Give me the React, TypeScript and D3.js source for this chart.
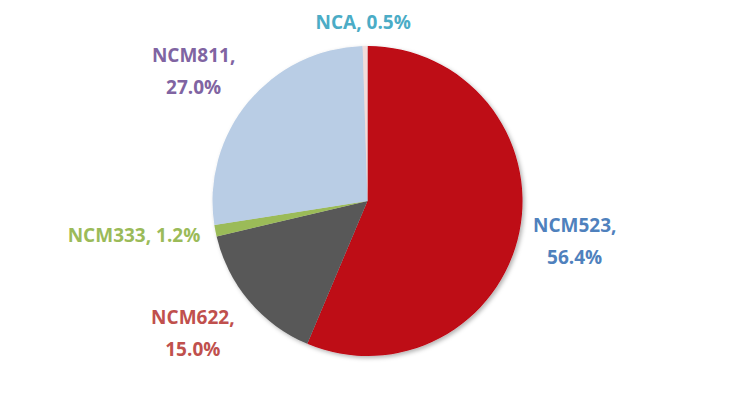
import { useMemo } from "react";
import * as d3 from "d3";

const WIDTH = 736;
const HEIGHT = 402;
const CX = 367.5;
const CY = 201;
const RADIUS = 155;
const FONT_SIZE = 19;
const LINE_GAP = 32;

const categories = ["NCM523", "NCM622", "NCM333", "NCM811", "NCA"];
const shares = [56.4, 15.0, 1.2, 27.0, 0.5];

const sliceColors = ["#BE0712", "#595959", "#9BBB59", "#B9CDE5", "#F2DCDB"];
const labelColors = ["#4F81BD", "#C0504D", "#9BBB59", "#8064A2", "#4BACC6"];

// label placement: radius from centre, angle shift (deg) from slice middle, two lines or one
const labelLayout = [
  { r: 211, da: -0.5, split: true },
  { r: 219, da: 3.1, split: true },
  { r: 236, da: 2.7, split: false },
  { r: 217, da: -2.9, split: true },
  { r: 179, da: -0.5, split: false },
];

type Item = { name: string; value: number };

const data: Item[] = categories.map((name, i) => ({ name, value: shares[i] }));

export default function App() {
  const pie = useMemo(
    () =>
      d3
        .pie<Item>()
        .sort(null)
        .value((d) => d.value)(data),
    []
  );

  const arcGen = d3.arc<d3.PieArcDatum<Item>>().innerRadius(0).outerRadius(RADIUS);

  return (
    <svg
      width={WIDTH}
      height={HEIGHT}
      style={{ position: "absolute", left: 0, top: 0, background: "#fff" }}
      fontFamily="'Open Sans', sans-serif"
      fontWeight={700}
    >
      <defs>
        <filter id="shadow" x="-20%" y="-20%" width="140%" height="140%">
          <feDropShadow dx={2} dy={2} stdDeviation={2} floodColor="#000" floodOpacity={0.3} />
        </filter>
      </defs>
      <g transform={`translate(${CX},${CY})`}>
        <g filter="url(#shadow)">
          {pie.map((p, i) => (
            <path key={i} d={arcGen(p) ?? ""} fill={sliceColors[i]} />
          ))}
        </g>
        {pie.map((p, i) => {
          const lay = labelLayout[i];
          const a = (p.startAngle + p.endAngle) / 2 + (lay.da * Math.PI) / 180;
          const x = lay.r * Math.sin(a);
          const y = -lay.r * Math.cos(a);
          const pct = `${p.data.value.toFixed(1)}%`;
          const lines = lay.split ? [`${p.data.name},`, pct] : [`${p.data.name}, ${pct}`];
          const y0 = y - ((lines.length - 1) * LINE_GAP) / 2;
          return (
            <text key={i} textAnchor="middle" fontSize={FONT_SIZE} fill={labelColors[i]}>
              {lines.map((t, j) => (
                <tspan key={j} x={x} y={y0 + j * LINE_GAP + FONT_SIZE * 0.357}>
                  {t}
                </tspan>
              ))}
            </text>
          );
        })}
      </g>
    </svg>
  );
}
